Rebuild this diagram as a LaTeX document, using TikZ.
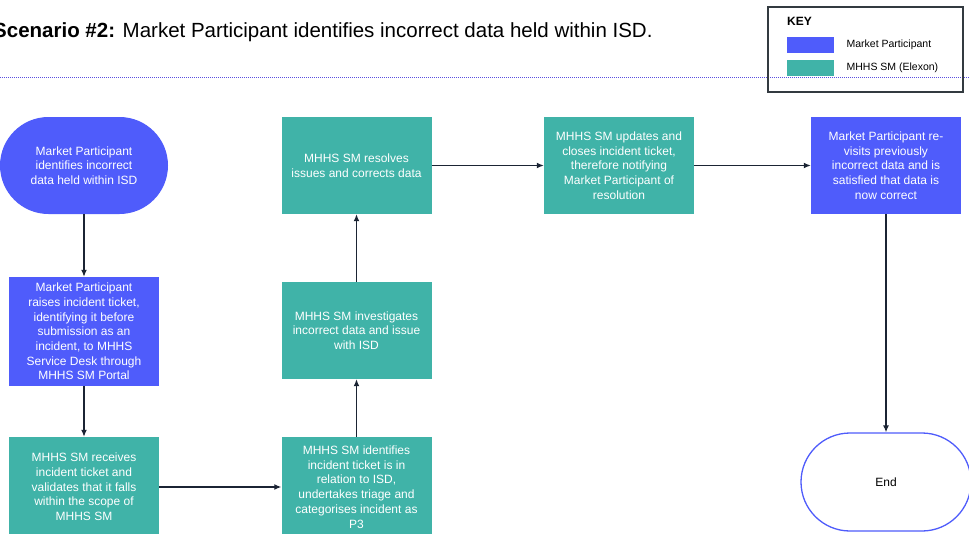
\documentclass[tikz,border=0pt]{standalone}
\usepackage{fontspec}
\setmainfont{Liberation Sans}
\usepackage{tikz}
\usetikzlibrary{positioning}
\usetikzlibrary{shapes,arrows,arrows.meta,calc}

\definecolor{mpblue}{HTML}{4F5CFB}
\definecolor{smteal}{HTML}{40B3A8}
\definecolor{arrowink}{HTML}{1B2434}
\definecolor{keyline}{HTML}{333A40}
\definecolor{dotline}{HTML}{5A4FE0}

\begin{document}
\begin{tikzpicture}[x=1pt,y=-1pt,>={Latex[length=7pt,width=6pt]},
  every node/.style={font=\fontsize{12}{14.7}\selectfont,align=center,inner sep=0pt},
  mpbox/.style={rectangle,fill=mpblue,text=white,minimum width=150pt,minimum height=97pt},
  smbox/.style={rectangle,fill=smteal,text=white,minimum width=150pt,minimum height=97pt},
  terminal/.style={rectangle,rounded corners=48.5pt,minimum width=168pt,minimum height=97pt},
  flow/.style={->,draw=arrowink,line width=1.3pt}]
\useasboundingbox (0,0) rectangle (969,533);

% the title and the dotted rule
\node[anchor=base west,font=\fontsize{20.5}{23}\selectfont] (title) at (-7,37)
  {\textbf{Scenario \#2:} Market Participant identifies incorrect data held within ISD.};
\draw[dotline,line width=1pt,dash pattern=on 1pt off 1pt] (0,77) -- (969,77);

% the key
\draw[keyline,line width=1.2pt] (768,7) rectangle (963,92);
\node[anchor=west,font=\fontsize{12}{14}\selectfont\bfseries] (keytitle) at (787,21) {KEY};
\node[fill=mpblue,minimum width=47pt,minimum height=16pt,anchor=north west] (keymp) at (787,37) {};
\node[fill=smteal,minimum width=47pt,minimum height=16pt,anchor=north west] (keysm) at (787,60) {};
\node[right=12pt of keymp,font=\fontsize{10.5}{12}\selectfont] {Market Participant};
\node[right=12pt of keysm,font=\fontsize{10.5}{12}\selectfont] {MHHS SM (Elexon)};

% the process steps
\node[terminal,fill=mpblue,text=white] (start) at (84,165.5)
  {Market Participant\\identifies incorrect\\data held within ISD};
\node[mpbox,minimum height=109pt] (raise) at (84,331.5)
  {Market Participant\\raises incident ticket,\\identifying it before\\submission as an\\incident, to MHHS\\Service Desk through\\MHHS SM Portal};
\node[smbox,minimum height=100pt] (receive) at (84,487)
  {MHHS SM receives\\incident ticket and\\validates that it falls\\within the scope of\\MHHS SM};
\node[smbox,minimum height=100pt] (identify) at (356.5,487)
  {MHHS SM identifies\\incident ticket is in\\relation to ISD,\\undertakes triage and\\categorises incident as\\P3};
\node[smbox] (investigate) at (356.5,330.5)
  {MHHS SM investigates\\incorrect data and issue\\with ISD};
\node[smbox] (resolve) at (356.5,165.5)
  {MHHS SM resolves\\issues and corrects data};
\node[smbox] (update) at (619,165.5)
  {MHHS SM updates and\\closes incident ticket,\\therefore notifying\\Market Participant of\\resolution};
\node[mpbox] (revisit) at (886,165.5)
  {Market Participant re-\\visits previously\\incorrect data and is\\satisfied that data is\\now correct};
\node[terminal,draw=mpblue,line width=1.3pt,fill=white,minimum width=170pt,minimum height=98pt,rounded corners=49pt] (finish) at (886,482) {End};

% the arrows
\draw[flow] (start) -- (raise);
\draw[flow] (raise) -- (receive);
\draw[flow] (receive) -- (identify);
\draw[flow] (identify) -- (investigate);
\draw[flow] (investigate) -- (resolve);
\draw[flow] (resolve) -- (update);
\draw[flow] (update) -- (revisit);
\draw[flow] (revisit) -- (finish);
\end{tikzpicture}
\end{document}
